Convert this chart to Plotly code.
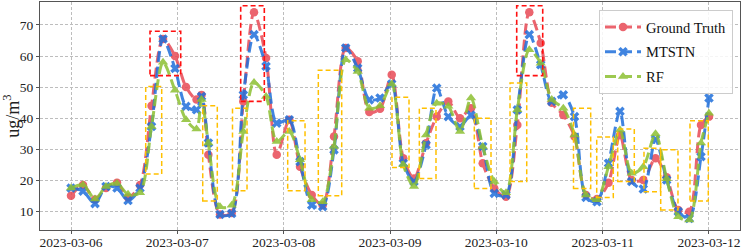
import pandas as pd
import plotly.graph_objects as go

# hours after 2023-03-06 00:00 for each sample
hours = [0, 2.71, 5.42, 7.9, 10.38, 12.87, 15.57, 18.17, 20.77, 23.47, 25.96, 28.33, 29.46, 31.0,
         33.64, 36.27, 38.89, 41.31, 44.02, 46.43, 49.27, 51.69, 54.33, 56.81, 59.36, 62.0, 64.71,
         67.33, 69.75, 72.39, 75.0, 77.42, 80.13, 82.55, 85.16, 87.8, 90.28, 92.93, 95.54, 98.18,
         100.74, 103.44, 106.02, 108.5, 111.12, 113.65, 116.24, 118.72, 121.32, 123.91, 126.55,
         129.17, 131.93, 134.45, 137.07, 139.55, 142.2, 144.0]

ground_truth = [15, 18.5, 13.8, 17.5, 19.2, 14.5, 18.5, 44, 65.5, 60, 50, 46, 47.5, 28.2,
                9, 9.5, 45.4, 74.1, 59.4, 28.2, 39.5, 24.4, 15.3, 12, 34.1, 62.6, 58.3,
                42, 43, 54, 27.1, 20.6, 31.9, 40.5, 45.4, 40, 43.2, 25.5, 17.4, 14.7,
                37.8, 74.1, 64.2, 45, 41, 34.1, 15.3, 14, 19.2, 34.6, 20.1,
                20.1, 27.1, 21, 10.4, 9.9, 37.8, 40.5]

mtstn = [17.5, 16.5, 12.5, 18, 17.5, 13.5, 17.5, 37.3, 65.5, 56, 43.8, 42.7, 47, 32,
         9, 9.3, 47.5, 66.9, 56.7, 38.4, 39.5, 26, 12, 11.5, 29.8, 62.6, 56.1,
         45.9, 46.5, 51, 25.5, 19.6, 31.4, 49.7, 40.5, 37.3, 41, 30.9, 15.8, 15.3,
         42.7, 66.9, 57.2, 45.4, 47.5, 40.5, 14.5, 13.1, 25.5, 42.2, 19.6,
         17.2, 33.2, 20.1, 9.9, 7.7, 27.6, 46.5]

rf = [17.5, 18.5, 14, 18, 19, 15.5, 16, 37.3, 58, 49, 39.5, 36.5, 46, 32,
      11.5, 12, 35.7, 51.5, 47, 32.5, 35.7, 26.6, 13.7, 13.1, 30.9, 58.8, 55,
      43.2, 44, 51, 25, 18, 34.6, 44.8, 43.8, 35.7, 46.5, 30.9, 19.6, 16,
      42.7, 62, 57.7, 46, 43.2, 34.6, 15.3, 13.7, 24.4, 36.2, 22.3,
      24.4, 35, 20.5, 8.3, 7.2, 32, 41.6]

# highlight boxes: start hour, end hour, low value, high value
red_box_h0 = [17.83, 38.3, 100.6]
red_box_h1 = [24.76, 43.63, 106.47]
red_box_v0 = [53.7, 45.4, 53.7]
red_box_v1 = [68, 76.2, 76.2]

yel_box_h0 = [16.86, 29.73, 36.45, 48.91, 55.82, 72.45, 78.62, 91.03, 99.09, 113.42, 118.66, 123.4, 129.33, 133.1, 139.71]
yel_box_h1 = [20.47, 33.02, 39.73, 52.82, 61.1, 76.29, 82.38, 94.8, 102.86, 117.3, 122.4, 127.14, 133.06, 137.0, 143.84]
yel_box_v0 = [22.0, 13.3, 16.6, 16.6, 15, 24.1, 20.6, 17.4, 19.6, 17.4, 14.5, 19.6, 16.3, 10.4, 13.3]
yel_box_v1 = [50.2, 44, 43.2, 39.2, 55.4, 46.7, 43.2, 40, 51.3, 43.2, 33.9, 36.5, 30.3, 29.8, 39.2]

tick_labels = ["2023-03-06", "2023-03-07", "2023-03-08", "2023-03-09", "2023-03-10", "2023-03-11", "2023-03-12"]

base = pd.Timestamp("2023-03-06")
times = base + pd.to_timedelta(hours, unit="h")
to_t = lambda h: base + pd.Timedelta(hours=h)

SERIF = "Liberation Serif, Times New Roman, serif"
fig = go.Figure()

series = [
    ("Ground Truth", ground_truth, "#E84A55", "circle", 8.5),
    ("MTSTN", mtstn, "#1F6FDB", "x", 8.5),
    ("RF", rf, "#8CC032", "triangle-up", 9),
]
for name, vals, col, sym, sz in series:
    fig.add_trace(go.Scatter(
        x=times, y=vals, name=name, mode="lines+markers", legendgroup=name,
        line=dict(color=col, width=3, dash="11px,5px", shape="spline", smoothing=0.8),
        marker=dict(symbol=sym, size=sz, color=col, line=dict(width=0)),
        opacity=0.85,
    ))

shapes = []
for h0, h1, v0, v1 in zip(yel_box_h0, yel_box_h1, yel_box_v0, yel_box_v1):
    shapes.append(dict(type="rect", xref="x", yref="y", x0=to_t(h0), x1=to_t(h1), y0=v0, y1=v1,
                       line=dict(color="#FFC000", width=1.5, dash="5px,3px"), layer="above"))
for h0, h1, v0, v1 in zip(red_box_h0, red_box_h1, red_box_v0, red_box_v1):
    shapes.append(dict(type="rect", xref="x", yref="y", x0=to_t(h0), x1=to_t(h1), y0=v0, y1=v1,
                       line=dict(color="#FF1010", width=1.6, dash="5px,3px"), layer="above"))

fig.update_layout(
    width=747, height=249,
    margin=dict(l=40, r=7, t=2, b=19, autoexpand=False),
    paper_bgcolor="white", plot_bgcolor="white",
    font=dict(family=SERIF, color="#222", size=14),
    shapes=shapes,
    showlegend=True,
    legend=dict(x=0.99, y=0.965, xanchor="right", yanchor="top",
                bgcolor="rgba(255,255,255,0.85)", bordercolor="#cccccc", borderwidth=1,
                font=dict(family=SERIF, size=14.5, color="#111"), itemwidth=36,
                tracegroupgap=3),
)
fig.update_xaxes(
    range=[to_t(-7.0), to_t(151.0)],
    tickvals=[pd.Timestamp(t) for t in tick_labels], ticktext=tick_labels,
    showgrid=True, gridcolor="#bdbdbd", griddash="3px,2px", gridwidth=1,
    showline=True, linecolor="#555", linewidth=1, mirror=True,
    ticks="outside", ticklen=3, tickcolor="#555", ticklabelstandoff=-3,
    tickfont=dict(family=SERIF, size=13.5, color="#222"), zeroline=False, automargin=False,
)
fig.update_yaxes(
    range=[4, 77.4],
    tickvals=[10, 20, 30, 40, 50, 60, 70],
    showgrid=True, gridcolor="#bdbdbd", griddash="3px,2px", gridwidth=1,
    showline=True, linecolor="#555", linewidth=1, mirror=True,
    ticks="outside", ticklen=3, tickcolor="#555",
    tickfont=dict(family=SERIF, size=13.5, color="#222"), zeroline=False, automargin=False,
    title=dict(text="ug/m<sup>3</sup>", font=dict(family=SERIF, size=18, color="#222"), standoff=1),
)

fig.write_html("out.html", config={"displayModeBar": False},
               post_script="document.body.style.margin='0';document.body.style.padding='0';document.body.style.overflow='hidden';")
